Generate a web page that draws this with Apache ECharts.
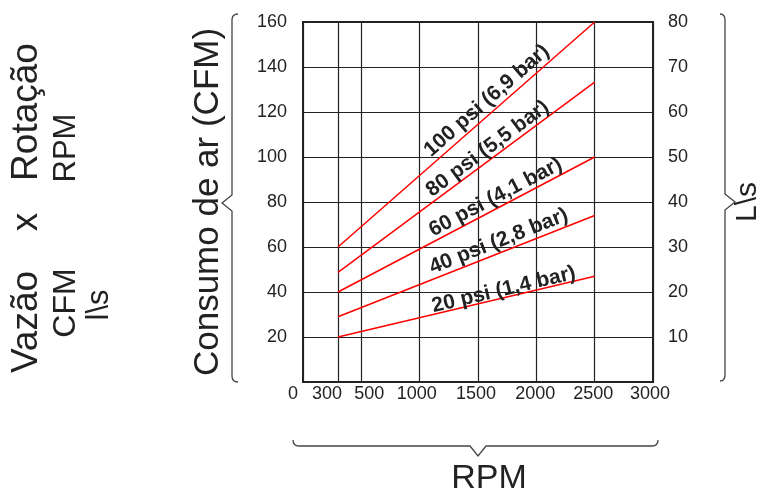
<!DOCTYPE html>
<html>
<head>
<meta charset="utf-8">
<script src="https://cdn.jsdelivr.net/npm/echarts@6/dist/echarts.min.js"></script>
<style>html,body{margin:0;padding:0;background:#fff;}#c{width:760px;height:491px;}</style>
</head>
<body>
<div id="c"></div>
<script>
// ---- data ----
const rpm = [300, 2500];
const psi100 = [60, 160];
const psi80 = [48.7, 133.3];
const psi60 = [40, 100];
const psi40 = [29, 74];
const psi20 = [20, 47];
const seriesNames = ['100 psi (6,9 bar)', '80 psi (5,5 bar)', '60 psi (4,1 bar)', '40 psi (2,8 bar)', '20 psi (1,4 bar)'];
const xTicks = [0, 300, 500, 1000, 1500, 2000, 2500, 3000];
const cfmTicks = [0, 20, 40, 60, 80, 100, 120, 140, 160];
const lsTicks = [0, 10, 20, 30, 40, 50, 60, 70, 80];

// ---- layout ----
const G = {left: 303, right: 107, top: 22, bottom: 109};
const W = 760, H = 491;
const plotW = W - G.left - G.right, plotH = H - G.top - G.bottom;
const xMax = 3000, yMax = 160;
const FONT = 'Liberation Sans, Arial, sans-serif';
const TXT = '#222';

// label anchors (data coords) for the line annotations
const labelAnchors = [[1575, 125.0], [1583, 103.7], [1651, 82.1], [1678, 62.5], [1721, 41.0]];
const allSeries = [psi100, psi80, psi60, psi40, psi20];

function angleOf(vals) {
  const dx = (rpm[1] - rpm[0]) * plotW / xMax;
  const dy = (vals[1] - vals[0]) * plotH / yMax;
  return Math.atan2(dy, dx) * 180 / Math.PI;
}

const series = allSeries.map((vals, i) => ({
  name: seriesNames[i],
  type: 'line',
  data: rpm.map((r, j) => [r, vals[j]]),
  symbol: 'none',
  lineStyle: {color: '#ff0000', width: 1.5},
  itemStyle: {color: '#ff0000'},
  silent: true,
  markPoint: {
    symbol: 'circle',
    symbolSize: 0,
    silent: true,
    data: [{coord: labelAnchors[i]}],
    label: {
      show: true, position: 'inside', formatter: seriesNames[i],
      rotate: angleOf(vals), fontWeight: 'bold', fontSize: 21,
      fontFamily: FONT, color: TXT
    }
  }
}));

const shift = {0: [0, 20, 0, 0], 300: [0, 22, 0, 0], 500: [0, 0, 0, 16], 1000: [0, 6, 0, 0],
  1500: [0, 4, 0, 0], 2000: [0, 2, 0, 0], 2500: [0, 3, 0, 0], 3000: [0, 6, 0, 0]};
const rich = {};
xTicks.forEach(v => { rich['t' + v] = {padding: shift[v] || 0, fontSize: 18, fontFamily: FONT, color: TXT}; });

function vtext(txt, x, y, size, rot) {
  return {type: 'text', x: x, y: y, rotation: rot, silent: true,
    style: {text: txt, x: 0, y: 0, fontSize: size, fontFamily: FONT, fill: TXT, align: 'center', verticalAlign: 'middle'}};
}
const R = Math.PI / 2;
const braceStyle = {stroke: '#444', lineWidth: 1.3, fill: null};
function pl(points) { return {type: 'polyline', silent: true, shape: {points: points}, style: braceStyle}; }
function bz(x1, y1, cx, cy, x2, y2) { return {type: 'bezierCurve', silent: true, shape: {x1: x1, y1: y1, cpx1: cx, cpy1: cy, x2: x2, y2: y2}, style: braceStyle}; }

const option = {
  animation: false,
  backgroundColor: '#fff',
  grid: {left: G.left, right: G.right, top: G.top, bottom: G.bottom, show: true, borderColor: '#222', borderWidth: 2, containLabel: false},
  xAxis: {
    type: 'value', min: 0, max: xMax,
    axisLine: {show: false},
    axisTick: {show: false, customValues: xTicks},
    splitLine: {show: true, lineStyle: {color: '#222', width: 1.2}},
    axisLabel: {customValues: xTicks, margin: 3, fontSize: 18, fontFamily: FONT, color: TXT,
      formatter: v => '{t' + v + '|' + v + '}', rich: rich}
  },
  yAxis: [{
    type: 'value', min: 0, max: yMax, interval: 20,
    axisLine: {show: false}, axisTick: {show: false},
    splitLine: {show: true, lineStyle: {color: '#222', width: 1.2}},
    axisLabel: {showMinLabel: false, margin: 16, fontSize: 18, fontFamily: FONT, color: TXT}
  }, {
    type: 'value', min: 0, max: 80, interval: 10, position: 'right',
    axisLine: {show: false}, axisTick: {show: false}, splitLine: {show: false},
    axisLabel: {showMinLabel: false, margin: 15, fontSize: 18, fontFamily: FONT, color: TXT}
  }],
  series: series,
  graphic: [
    vtext('Vazão', 27, 322, 37, R),
    vtext('x', 27, 222, 37, R),
    vtext('Rotação', 27, 112, 37, R),
    vtext('CFM', 66, 303, 32, R),
    vtext('RPM', 66, 148, 31, R),
    vtext('l\\s', 99, 305, 31, R),
    vtext('Consumo de ar (CFM)', 208, 202, 35, R),
    vtext('L\\s', 748, 202, 30, R),
    vtext('RPM', 489, 479, 34, 0),
    // left brace
    bz(238, 14, 232, 14, 232, 20),
    pl([[232, 20], [232, 195], [222, 203], [232, 211], [232, 376]]),
    bz(232, 376, 232, 382, 238, 382),
    // right brace
    bz(720, 14, 725, 14, 725, 20),
    pl([[725, 20], [725, 194], [735, 202], [725, 210], [725, 375]]),
    bz(725, 375, 725, 381, 720, 381),
    // bottom brace
    bz(293, 440, 293, 446, 299, 446),
    pl([[299, 446], [470, 446], [478, 456], [486, 446], [652, 446]]),
    bz(652, 446, 658, 446, 658, 440)
  ]
};
const chart = echarts.init(document.getElementById('c'), null, {renderer: 'canvas'});
chart.setOption(option);
</script>
</body>
</html>
